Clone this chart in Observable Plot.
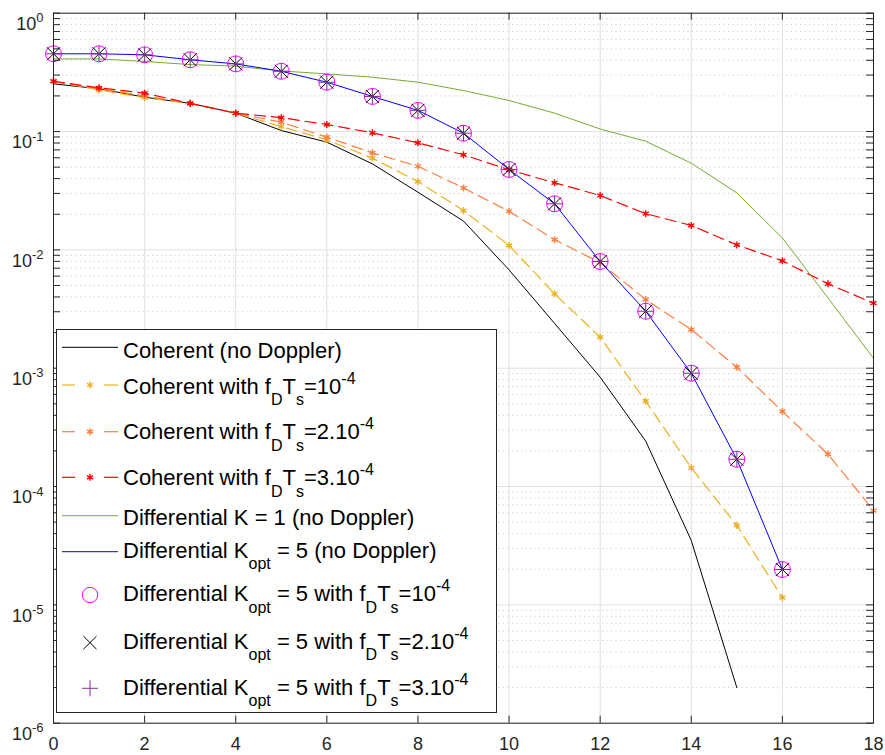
<!DOCTYPE html>
<html><head><meta charset="utf-8">
<script src="https://cdn.jsdelivr.net/npm/d3@7"></script>
<script src="https://cdn.jsdelivr.net/npm/@observablehq/plot@0.6"></script>
<style>
body{margin:0;background:#fff;}
#chart{position:relative;width:885px;height:755px;}
</style>
</head><body><div id="chart"></div>
<script>
// ---------- data ----------
const snr19 = [0,1,2,3,4,5,6,7,8,9,10,11,12,13,14,15,16,17,18];
const snr17 = [0,1,2,3,4,5,6,7,8,9,10,11,12,13,14,15,16];
const snr16 = [0,1,2,3,4,5,6,7,8,9,10,11,12,13,14,15];

const coherent = [0.253,0.230,0.195,0.173,0.143,0.102,0.0813,0.0533,0.0307,0.0175,0.00678,0.00239,8.4e-4,2.42e-4,3.5e-5,2.0e-6];
const coherentFd1 = [0.265,0.225,0.193,0.173,0.143,0.110,0.0851,0.0596,0.0378,0.0215,0.0109,0.00425,0.00183,5.26e-4,1.44e-4,4.69e-5,1.15e-5];
const coherentFd2 = [0.266,0.230,0.200,0.173,0.143,0.120,0.0896,0.066,0.0509,0.0334,0.0212,0.0122,0.0078,0.0038,0.00212,0.00102,4.31e-4,1.88e-4,6.27e-5];
const coherentFd3 = [0.266,0.234,0.211,0.173,0.143,0.131,0.1146,0.0975,0.0803,0.0636,0.0475,0.0369,0.0288,0.0202,0.0161,0.0110,0.00808,0.00517,0.00354];
const diffK1 = [0.411,0.411,0.391,0.368,0.357,0.325,0.307,0.288,0.261,0.222,0.183,0.143,0.105,0.0828,0.054,0.0303,0.0126,0.00393,0.00121];
const diffK5 = [0.454,0.454,0.445,0.404,0.373,0.323,0.261,0.198,0.151,0.0968,0.0478,0.0245,0.00797,0.00303,9.07e-4,1.70e-4,1.99e-5];
const diffK5Fd1 = [0.454,0.454,0.445,0.404,0.373,0.323,0.261,0.198,0.151,0.0968,0.0478,0.0245,0.00797,0.00303,9.07e-4,1.70e-4,1.99e-5];
const diffK5Fd2 = [0.454,0.454,0.445,0.404,0.373,0.323,0.261,0.198,0.151,0.0968,0.0478,0.0245,0.00797,0.00303,9.07e-4,1.70e-4,1.99e-5];
const diffK5Fd3 = [0.454,0.454,0.445,0.404,0.373,0.323,0.261,0.198,0.151,0.0968,0.0478,0.0245,0.00797,0.00303,9.07e-4,1.70e-4,1.99e-5];

const xTicks = [0,2,4,6,8,10,12,14,16,18];
const yDecades = [1e-6,1e-5,1e-4,1e-3,1e-2,1e-1,1];
const yMinor = [];
for (let e = -6; e < 0; e++) for (let k = 2; k <= 9; k++) yMinor.push(k * Math.pow(10, e));

const legendRows = [
  {parts:[{t:"Coherent (no Doppler)"}]},
  {parts:[{t:"Coherent with f"},{t:"D",sub:1},{t:"T"},{t:"s",sub:1},{t:"=10"},{t:"-4",sup:1}]},
  {parts:[{t:"Coherent with f"},{t:"D",sub:1},{t:"T"},{t:"s",sub:1},{t:"=2.10"},{t:"-4",sup:1}]},
  {parts:[{t:"Coherent with f"},{t:"D",sub:1},{t:"T"},{t:"s",sub:1},{t:"=3.10"},{t:"-4",sup:1}]},
  {parts:[{t:"Differential K = 1 (no Doppler)"}]},
  {parts:[{t:"Differential K"},{t:"opt",sub:1},{t:" = 5 (no Doppler)"}]},
  {parts:[{t:"Differential K"},{t:"opt",sub:1},{t:" = 5 with f"},{t:"D",sub:1},{t:"T"},{t:"s",sub:1},{t:"=10"},{t:"-4",sup:1}]},
  {parts:[{t:"Differential K"},{t:"opt",sub:1},{t:" = 5 with f"},{t:"D",sub:1},{t:"T"},{t:"s",sub:1},{t:"=2.10"},{t:"-4",sup:1}]},
  {parts:[{t:"Differential K"},{t:"opt",sub:1},{t:" = 5 with f"},{t:"D",sub:1},{t:"T"},{t:"s",sub:1},{t:"=3.10"},{t:"-4",sup:1}]}
];

// ---------- styles ----------
const C = {black:"#000000", yellow:"#EDB120", orange:"#FF7F3F", red:"#FF0000", green:"#77AC30", blue:"#0000FF", magenta:"#FF00FF", purple:"#7E2F8E"};
const W = 885, H = 755, mL = 53, mR = 12, mT = 12.7, mB = 32.3;
const pw = W - mL - mR, ph = H - mT - mB;
const dash = "11,6";
const axisCol = "#262626";
const FONT = "'Liberation Sans', Arial, Helvetica, sans-serif";

const dopplerMarks = (xs, ys, col) => [
  Plot.line(ys, {x: xs, y: ys, stroke: col, strokeWidth: 1.2, strokeDasharray: dash}),
  Plot.dot(ys, {x: xs, y: ys, symbol: "asterisk", r: 3.3, stroke: col, strokeWidth: 1.4})
];

const svg = Plot.plot({
  width: W, height: H,
  marginLeft: mL, marginRight: mR, marginTop: mT, marginBottom: mB,
  style: {fontFamily: FONT, fontSize: "18px", background: "#fff", color: axisCol, overflow: "visible"},
  x: {domain: [0, 18]},
  y: {type: "log", domain: [1e-6, 1]},
  marks: [
    // grid
    Plot.ruleY(yMinor, {stroke: "#b8b8b8", strokeWidth: 1, strokeDasharray: "1,3.5", strokeOpacity: 0.8}),
    Plot.ruleY(yDecades, {stroke: "#e0e0e0", strokeWidth: 1}),
    Plot.ruleX(xTicks, {stroke: "#e0e0e0", strokeWidth: 1}),
    // series
    Plot.line(coherent, {x: snr16, y: coherent, stroke: C.black, strokeWidth: 1}),
    ...dopplerMarks(snr17, coherentFd1, C.yellow),
    ...dopplerMarks(snr19, coherentFd2, C.orange),
    ...dopplerMarks(snr19, coherentFd3, C.red),
    Plot.line(diffK1, {x: snr19, y: diffK1, stroke: C.green, strokeWidth: 1}),
    Plot.line(diffK5, {x: snr17, y: diffK5, stroke: C.blue, strokeWidth: 1}),
    Plot.dot(diffK5Fd1, {x: snr17, y: diffK5Fd1, r: 8, stroke: C.magenta, fill: "none", strokeWidth: 1}),
    Plot.dot(diffK5Fd2, {x: snr17, y: diffK5Fd2, symbol: "times", r: 6, stroke: C.black, strokeWidth: 1}),
    Plot.dot(diffK5Fd3, {x: snr17, y: diffK5Fd3, symbol: "plus", r: 5.2, stroke: C.purple, strokeWidth: 1}),
    // box and inward ticks
    Plot.frame({stroke: axisCol, strokeWidth: 1}),
    Plot.ruleX(xTicks, {insetTop: ph - 7, stroke: axisCol}),
    Plot.ruleX(xTicks, {insetBottom: ph - 7, stroke: axisCol}),
    Plot.ruleY(yDecades.concat(yMinor), {insetRight: pw - 7, stroke: axisCol}),
    Plot.ruleY(yDecades.concat(yMinor), {insetLeft: pw - 7, stroke: axisCol}),
    // axes labels
    Plot.axisX(xTicks, {tickSize: 0, tickPadding: 14, fontSize: 18, fill: axisCol}),
    Plot.axisY(yDecades, {tickSize: 0, tickPadding: 10, fontSize: 18, fill: axisCol,
      tickFormat: d => "10^" + Math.round(Math.log10(d))})
  ]
});

const s = d3.select(svg);
s.selectAll('g[aria-label="x-axis tick label"]').attr("font-size", 18);
s.selectAll('g[aria-label="x-axis tick label"] text').attr("font-size", 18);
// superscripts on y tick labels
s.selectAll('g[aria-label="y-axis tick label"]').attr("font-size", 18);
s.selectAll('g[aria-label="y-axis tick label"] text').each(function() {
  const [b, e] = this.textContent.split("^");
  const t = d3.select(this);
  t.text(null).attr("dy", "0.61em").attr("font-size", 18);
  t.append("tspan").text(b);
  t.append("tspan").attr("dy", -7.6).attr("font-size", 13).text(e);
});

// legend
const lg = s.append("g").attr("font-family", FONT).attr("text-anchor", "start");
lg.append("rect").attr("x", 56.5).attr("y", 329.5).attr("width", 440).attr("height", 383)
  .attr("fill", "#fff").attr("stroke", axisCol).attr("stroke-width", 1);

const rowY = [347.3, 385, 431.7, 477.3, 515.7, 551.7, 595, 642.7, 688.3];
const rowBase = [357.5, 393.5, 439.2, 485, 525, 557.5, 601.3, 648.5, 694.5];
const sampleSpec = [
  {kind:"line", col:C.black},
  {kind:"dash", col:C.yellow},
  {kind:"dash", col:C.orange},
  {kind:"dash", col:C.red},
  {kind:"line", col:C.green},
  {kind:"line", col:C.blue},
  {kind:"circle", col:C.magenta},
  {kind:"times", col:C.black},
  {kind:"plus", col:C.purple}
];
const sym = (type, r) => d3.symbol(type, r * r * Math.PI)();
sampleSpec.forEach((sp, i) => {
  const y = rowY[i];
  if (sp.kind === "line") {
    lg.append("line").attr("x1", 62).attr("x2", 118).attr("y1", y).attr("y2", y).attr("stroke", sp.col).attr("stroke-width", 1);
  } else if (sp.kind === "dash") {
    lg.append("line").attr("x1", 62).attr("x2", 75).attr("y1", y).attr("y2", y).attr("stroke", sp.col).attr("stroke-width", 1.2);
    lg.append("line").attr("x1", 104).attr("x2", 118).attr("y1", y).attr("y2", y).attr("stroke", sp.col).attr("stroke-width", 1.2);
    lg.append("path").attr("d", sym(d3.symbolAsterisk, 3.3)).attr("transform", `translate(90,${y})`).attr("fill", "none").attr("stroke", sp.col).attr("stroke-width", 1.4);
  } else if (sp.kind === "circle") {
    lg.append("circle").attr("cx", 90).attr("cy", y).attr("r", 7.7).attr("fill", "none").attr("stroke", sp.col).attr("stroke-width", 1);
  } else if (sp.kind === "times") {
    lg.append("path").attr("d", sym(d3.symbolTimes, 6)).attr("transform", `translate(90,${y})`).attr("fill", "none").attr("stroke", sp.col).attr("stroke-width", 1);
  } else {
    lg.append("path").attr("d", sym(d3.symbolPlus, 5.2)).attr("transform", `translate(90,${y})`).attr("fill", "none").attr("stroke", sp.col).attr("stroke-width", 1);
  }
  const t = lg.append("text").attr("x", 123).attr("y", rowBase[i]).attr("font-size", 22)
    .attr("fill", "#000").attr("text-anchor", "start");
  let cur = 0;
  legendRows[i].parts.forEach(p => {
    const off = p.sub ? 11.5 : p.sup ? -10 : 0;
    const ts = t.append("tspan").attr("dy", off - cur).text(p.t);
    if (p.sub || p.sup) ts.attr("font-size", 16);
    cur = off;
  });
});

document.getElementById("chart").appendChild(svg);
</script>
</body></html>
